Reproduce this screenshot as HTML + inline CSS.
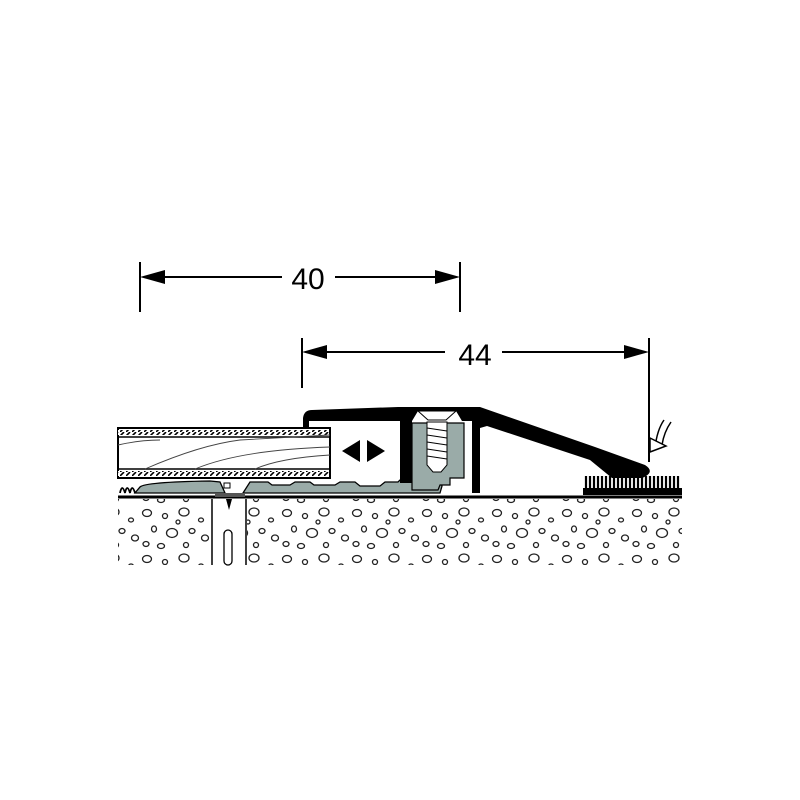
<!DOCTYPE html>
<html><head><style>html,body{margin:0;padding:0;background:#fff}svg{display:block}</style></head>
<body>
<svg width="800" height="800" viewBox="0 0 800 800" xmlns="http://www.w3.org/2000/svg" font-family="Liberation Sans, sans-serif">
<defs>
<pattern id="hatch" width="6" height="4" patternUnits="userSpaceOnUse"><rect width="6" height="4" fill="#fff"/><path d="M0,4 L4,0" stroke="#000" stroke-width="1.6"/></pattern>
<pattern id="pebble" width="70" height="46" patternUnits="userSpaceOnUse">
<rect width="70" height="46" fill="#fff"/>
<g fill="none" stroke="#222" stroke-width="1.3">
<ellipse cx="7" cy="7" rx="4.5" ry="3.5"/><ellipse cx="25" cy="10" rx="2.5" ry="2.5"/><ellipse cx="44" cy="6" rx="5" ry="4"/><ellipse cx="61" cy="14" rx="2.5" ry="2"/>
<ellipse cx="14" cy="23" rx="2.5" ry="3"/><ellipse cx="32" cy="27" rx="5.5" ry="4.5"/><ellipse cx="52" cy="25" rx="3" ry="2.5"/><ellipse cx="65" cy="32" rx="3.5" ry="3"/>
<ellipse cx="6" cy="38" rx="3" ry="2.5"/><ellipse cx="21" cy="40" rx="3.5" ry="2.5"/><ellipse cx="46" cy="39" rx="2.5" ry="2.5"/><ellipse cx="38" cy="16" rx="2" ry="2"/>
</g></pattern>
</defs>
<g stroke="#000" stroke-width="2" fill="#000">
<line x1="140" y1="262" x2="140" y2="312"/><line x1="460" y1="262" x2="460" y2="312"/>
<line x1="150" y1="277" x2="282" y2="277"/><line x1="335" y1="277" x2="450" y2="277"/>
<polygon points="140,277 165,270 165,284" stroke="none"/><polygon points="460,277 435,270 435,284" stroke="none"/>
<line x1="302" y1="338" x2="302" y2="388"/><line x1="649" y1="338" x2="649" y2="462"/>
<line x1="312" y1="352" x2="445" y2="352"/><line x1="502" y1="352" x2="640" y2="352"/>
<polygon points="302,352 327,345 327,359" stroke="none"/><polygon points="649,352 624,345 624,359" stroke="none"/>
</g>
<text x="308" y="289" font-size="30" text-anchor="middle">40</text>
<text x="475" y="365" font-size="30" text-anchor="middle">44</text>
<path d="M664,420 Q657,430 655,448" fill="none" stroke="#000" stroke-width="1.5"/>
<path d="M671,422 Q664,432 662,445" fill="none" stroke="#000" stroke-width="1.5"/>
<polygon points="650,438 666,446 650,452" fill="#fff" stroke="#000" stroke-width="1.5"/>
<rect x="118" y="499" width="564" height="66" fill="url(#pebble)"/>
<rect x="210" y="499" width="37" height="66" fill="#fff"/>
<line x1="212" y1="499" x2="212" y2="565" stroke="#000" stroke-width="1.5"/>
<line x1="246" y1="499" x2="246" y2="565" stroke="#000" stroke-width="1.5"/>
<rect x="224" y="530" width="8" height="35" rx="4" fill="none" stroke="#000" stroke-width="1.3"/>
<polygon points="226,499 232,499 229,510" fill="#000"/>
<line x1="118" y1="497" x2="682" y2="497" stroke="#000" stroke-width="3"/>
<rect x="118" y="428" width="212" height="50" fill="#fff" stroke="#000" stroke-width="2"/>
<rect x="118" y="430" width="211" height="5" fill="url(#hatch)"/>
<rect x="118" y="471" width="211" height="5" fill="url(#hatch)"/>
<line x1="118" y1="437" x2="330" y2="437" stroke="#000" stroke-width="1.5"/>
<line x1="118" y1="469" x2="330" y2="469" stroke="#000" stroke-width="1.5"/>
<g fill="none" stroke="#444" stroke-width="0.9">
<path d="M118,445 Q140,440 160,440"/><path d="M145,469 Q200,445 240,440 L330,435"/><path d="M195,469 Q240,450 330,447"/><path d="M255,469 Q280,458 330,455"/>
</g>
<path d="M140,487 Q145,482 210,481 L220,482 L225,493 L135,493 Z" fill="#9aaba8" stroke="#000" stroke-width="1.3"/>
<path d="M243,493 L250,482 L268,482 L272,485 L290,485 L295,482 L310,482 L314,485 L335,485 L340,482 L355,482 L360,486 L380,486 L385,482 L398,482 L400,480 L440,480 L442,486 L440,493 Z" fill="#9aaba8" stroke="#000" stroke-width="1.3"/>
<path d="M120,493 q2,-10 5,0 q2,-10 5,0 q2,-10 5,0" fill="none" stroke="#000" stroke-width="1.8"/>
<rect x="224" y="483" width="6" height="5" fill="#fff" stroke="#000" stroke-width="1"/>
<rect x="215" y="493" width="30" height="4" fill="#555"/>
<path d="M303,428 L303,418 Q304,410 312,410 L398,407 L480,407 L595,447 L645,465 Q656,472 642,478 L612,478 L590,460 L487,426 L480,428 L480,493 L472,493 L472,421 L462,421 L456,411 L418,411 L412,421 L412,483 L400,483 L400,421 L309,421 L309,428 Z" fill="#000"/>
<path d="M412,423 L464,423 L464,478 L450,478 L450,485 L440,485 L438,490 L412,490 Z" fill="#9aaba8" stroke="#000" stroke-width="1.2"/>
<g fill="#fff" stroke="#000" stroke-width="1">
<polygon points="418,411 456,411 446,420 428,420"/>
<path d="M427,422 L447,422 L447,465 L441,472 L433,472 L427,465 Z"/>
<path d="M427,428 L447,431 M427,435 L447,438 M427,442 L447,445 M427,449 L447,452 M427,456 L447,459" />
</g>
<polygon points="342,451 360,440 360,462" fill="#000"/>
<polygon points="385,451 367,440 367,462" fill="#000"/>
<rect x="583" y="488" width="99" height="7" fill="#000"/>
<g stroke="#000" stroke-width="2.2">
<path d="M586,476 V490 M590,476 V490 M594,476 V490 M598,476 V490 M602,476 V490 M606,476 V490 M610,476 V490 M614,476 V490 M618,476 V490 M622,476 V490 M626,476 V490 M630,476 V490 M634,476 V490 M638,476 V490 M642,476 V490 M646,476 V490 M650,476 V490 M654,476 V490 M658,476 V490 M662,476 V490 M666,476 V490 M670,476 V490 M674,476 V490 M678,476 V490"/>
</g>
</svg>
</body></html>
